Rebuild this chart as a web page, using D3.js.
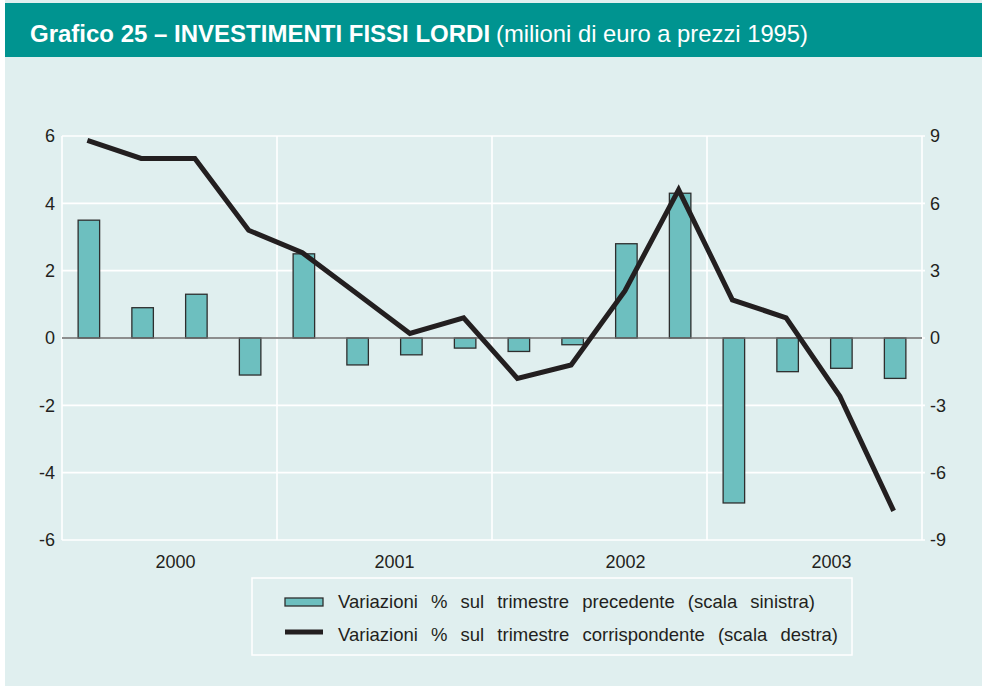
<!DOCTYPE html>
<html><head><meta charset="utf-8">
<script src="https://cdn.jsdelivr.net/npm/d3@7/dist/d3.min.js"></script>
<style>html,body{margin:0;padding:0;background:#fff;}svg{display:block;}</style>
</head><body>
<script>
// ---- data ----
const years = ["2000", "2001", "2002", "2003"];
const quarters = ["2000T1","2000T2","2000T3","2000T4","2001T1","2001T2","2001T3","2001T4",
                  "2002T1","2002T2","2002T3","2002T4","2003T1","2003T2","2003T3","2003T4"];
const varPrecedente = [3.5, 0.9, 1.3, -1.1, 2.5, -0.8, -0.5, -0.3, -0.4, -0.2, 2.8, 4.3, -4.9, -1.0, -0.9, -1.2];
const varCorrispondente = [8.8, 8.0, 8.0, 4.8, 3.8, 2.0, 0.2, 0.9, -1.8, -1.2, 2.1, 6.6, 1.7, 0.9, -2.6, -7.7];
const leftTicks = [-6, -4, -2, 0, 2, 4, 6];
const rightTicks = [-9, -6, -3, 0, 3, 6, 9];
const titleBold = "Grafico 25 – INVESTIMENTI FISSI LORDI";
const titleNormal = "(milioni di euro a prezzi 1995)";
const legendLabels = ["Variazioni % sul trimestre precedente (scala sinistra)",
                      "Variazioni % sul trimestre corrispondente (scala destra)"];

// ---- layout ----
const W = 982, H = 686;
const plot = {left: 62, right: 922, top: 136, bottom: 540};
const yearLabelNudge = [6, 10, 26, 17];
const C = {bg: "#e0efef", band: "#009490", bar: "#6dbfbf", barStroke: "#2e2e2e",
           line: "#231f20", grid: "#ffffff", zero: "#6a6a6a", text: "#231f20"};
const font = "'Liberation Sans', Arial, Helvetica, sans-serif";

const svg = d3.select("body").append("svg").attr("width", W).attr("height", H);
svg.append("rect").attr("x", 5).attr("y", 0).attr("width", W - 5).attr("height", H).attr("fill", C.bg);
svg.append("rect").attr("x", 5).attr("y", 3).attr("width", W - 5).attr("height", 54).attr("fill", C.band);

// title
function fitText(sel, target) {
  const w = sel.node().getComputedTextLength();
  if (Math.abs(w - target) > 1) sel.attr("textLength", target).attr("lengthAdjust", "spacingAndGlyphs");
}
const t1 = svg.append("text").attr("x", 30).attr("y", 42).attr("fill", "#fff")
  .attr("font-family", font).attr("font-weight", "bold").attr("font-size", 24).text(titleBold);
fitText(t1, 460);
const t2 = svg.append("text").attr("x", 496).attr("y", 42).attr("fill", "#fff")
  .attr("font-family", font).attr("font-size", 24).text(titleNormal);
fitText(t2, 312);

// scales
const x = d3.scaleBand().domain(quarters).range([plot.left, plot.right]).paddingInner(0.6).paddingOuter(0.3);
const xYear = d3.scaleBand().domain(years).range([plot.left, plot.right]);
const yL = d3.scaleLinear().domain([-6, 6]).range([plot.bottom, plot.top]);
const yR = d3.scaleLinear().domain([-9, 9]).range([plot.bottom, plot.top]);

// grid
const g = svg.append("g");
g.selectAll("line.h").data(leftTicks).join("line").attr("class", "h")
  .attr("x1", plot.left).attr("x2", plot.right + 3)
  .attr("y1", d => yL(d)).attr("y2", d => yL(d))
  .attr("stroke", C.grid).attr("stroke-width", 1.6);
const vlines = years.map(y => xYear(y)).concat([plot.right]);
g.selectAll("line.v").data(vlines).join("line").attr("class", "v")
  .attr("x1", d => d).attr("x2", d => d).attr("y1", plot.top).attr("y2", plot.bottom)
  .attr("stroke", C.grid).attr("stroke-width", 1.6);

// bars
svg.append("g").selectAll("rect").data(varPrecedente).join("rect")
  .attr("x", (d, i) => x(quarters[i]))
  .attr("width", x.bandwidth())
  .attr("y", d => yL(Math.max(0, d)))
  .attr("height", d => Math.abs(yL(d) - yL(0)))
  .attr("fill", C.bar).attr("stroke", C.barStroke).attr("stroke-width", 1.3);

// zero line
svg.append("line").attr("x1", plot.left).attr("x2", plot.right)
  .attr("y1", yL(0)).attr("y2", yL(0)).attr("stroke", C.zero).attr("stroke-width", 1.6);

// line
const line = d3.line().x((d, i) => x(quarters[i]) + x.bandwidth() / 2 - 1.5).y(d => yR(d));
svg.append("path").datum(varCorrispondente).attr("d", line)
  .attr("fill", "none").attr("stroke", C.line).attr("stroke-width", 5).attr("stroke-linejoin", "miter");

// axes labels
const fmt = d => String(d);
const axL = svg.append("g").attr("transform", `translate(${plot.left},0)`)
  .call(d3.axisLeft(yL).tickValues(leftTicks).tickSize(0).tickPadding(7).tickFormat(fmt));
const axR = svg.append("g").attr("transform", `translate(${plot.right},0)`)
  .call(d3.axisRight(yR).tickValues(rightTicks).tickSize(0).tickPadding(8).tickFormat(fmt));
const axB = svg.append("g").attr("transform", `translate(0,${plot.bottom})`)
  .call(d3.axisBottom(xYear).tickSize(0).tickPadding(15));
[axL, axR, axB].forEach(a => {
  a.select(".domain").remove();
  a.selectAll("text").attr("font-family", font).attr("font-size", 18).attr("fill", C.text);
});
axB.selectAll("text").attr("dx", (d, i) => yearLabelNudge[i]);

// legend
const lg = svg.append("g");
lg.append("rect").attr("x", 252).attr("y", 578).attr("width", 600).attr("height", 77)
  .attr("fill", "none").attr("stroke", "#ffffff").attr("stroke-width", 1.5);
lg.append("rect").attr("x", 285).attr("y", 598).attr("width", 38).attr("height", 8)
  .attr("fill", C.bar).attr("stroke", C.barStroke).attr("stroke-width", 1.3);
lg.append("line").attr("x1", 285).attr("x2", 323).attr("y1", 632).attr("y2", 632)
  .attr("stroke", C.line).attr("stroke-width", 5);
const legendTargets = [477, 500];
legendLabels.forEach((txt, i) => {
  const t = lg.append("text").attr("x", 338).attr("y", 608 + i * 33)
    .attr("font-family", font).attr("font-size", 18.5).attr("fill", C.text).text(txt);
  const w = t.node().getComputedTextLength();
  const gaps = txt.split(" ").length - 1;
  t.attr("word-spacing", Math.max(0, (legendTargets[i] - w) / gaps));
});
</script>
</body></html>
